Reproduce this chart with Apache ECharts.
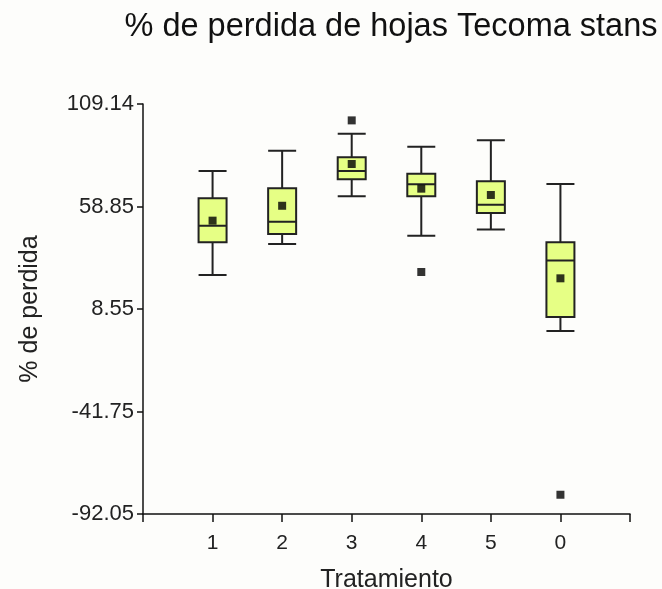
<!DOCTYPE html>
<html>
<head>
<meta charset="utf-8">
<script src="https://cdn.jsdelivr.net/npm/echarts@6/dist/echarts.min.js"></script>
<style>
  html, body { margin: 0; padding: 0; background: #fdfdfb; }
  #chart { width: 662px; height: 589px; }
</style>
</head>
<body>
<div id="chart"></div>
<script>
// Treatments in display order
const categories = ['1', '2', '3', '4', '5', '0'];

// Box statistics per treatment: [lower whisker, Q1, median, Q3, upper whisker]
const lowerWhisker = [25.2, 40.4, 63.9, 44.5, 47.6, -2.2];
const q1Values     = [41.3, 45.3, 72.2, 63.9, 55.6, 4.6];
const medianValues = [49.4, 51.4, 76.3, 69.7, 59.7, 32.4];
const q3Values     = [62.9, 67.8, 83.0, 74.9, 71.2, 41.3];
const upperWhisker = [76.3, 86.2, 94.6, 88.2, 91.3, 69.9];

// Mean of each treatment
const meanValues = [51.9, 59.2, 79.7, 67.6, 64.5, 23.6];

// Outlying observations: [treatment, value]
const outliers = [['3', 101.1], ['4', 26.7], ['0', -82.6]];

// Y axis tick labels
const yTicks = [-92.05, -41.75, 8.55, 58.85, 109.14];

// Axis slots: a blank slot on each side of the treatments
const slots = [''].concat(categories, ['']);

const boxData = [['-', '-', '-', '-', '-']].concat(
  categories.map((c, i) => [lowerWhisker[i], q1Values[i], medianValues[i], q3Values[i], upperWhisker[i]]),
  [['-', '-', '-', '-', '-']]
);
const meanData = categories.map((c, i) => [c, meanValues[i]]);

const textColor = '#222';
const font = 'Liberation Sans, Arial, sans-serif';

const chart = echarts.init(document.getElementById('chart'));
chart.setOption({
  backgroundColor: '#fdfdfb',
  animation: false,
  title: {
    text: '% de perdida de hojas Tecoma stans',
    left: 386, top: 6, textAlign: 'center',
    textStyle: { fontFamily: font, fontSize: 32.5, fontWeight: 'normal', color: '#111' }
  },
  grid: {
    left: 143, right: 32, top: 104, bottom: 75,
    containLabel: false,
    outerBoundsMode: 'none'
  },
  xAxis: {
    type: 'category',
    data: slots,
    boundaryGap: false,
    name: 'Tratamiento',
    nameLocation: 'middle',
    nameGap: 54,
    nameTextStyle: { fontFamily: font, fontSize: 25, color: textColor },
    axisLine: { onZero: false, lineStyle: { color: '#111', width: 1.5 } },
    axisTick: { show: true, inside: false, length: 8, lineStyle: { color: '#111', width: 1.5 }, interval: 0 },
    axisLabel: { interval: 0, margin: 19, fontFamily: font, fontSize: 21, color: textColor },
    splitLine: { show: false }
  },
  yAxis: {
    type: 'value',
    min: -92.05,
    max: 109.14,
    name: '% de perdida',
    nameLocation: 'middle',
    nameGap: 100,
    nameRotate: 90,
    nameTextStyle: { fontFamily: font, fontSize: 25, color: textColor },
    axisLine: { show: true, onZero: false, lineStyle: { color: '#111', width: 1.5 } },
    axisTick: { show: true, length: 6, lineStyle: { color: '#111', width: 1.5 }, customValues: yTicks },
    axisLabel: {
      fontFamily: font, fontSize: 22, color: textColor, margin: 9,
      customValues: yTicks,
      formatter: v => v.toFixed(2)
    },
    splitLine: { show: false }
  },
  series: [
    {
      type: 'boxplot',
      data: boxData,
      boxWidth: [28, 28],
      itemStyle: { color: '#e6ff85', borderColor: '#222', borderWidth: 2 },
      emphasis: { disabled: true }
    },
    {
      type: 'scatter',
      data: meanData,
      symbol: 'rect',
      symbolSize: 8,
      itemStyle: { color: '#000' },
      z: 5
    },
    {
      type: 'scatter',
      data: outliers,
      symbol: 'rect',
      symbolSize: 8,
      itemStyle: { color: '#000' },
      z: 5
    }
  ]
});
</script>
</body>
</html>
